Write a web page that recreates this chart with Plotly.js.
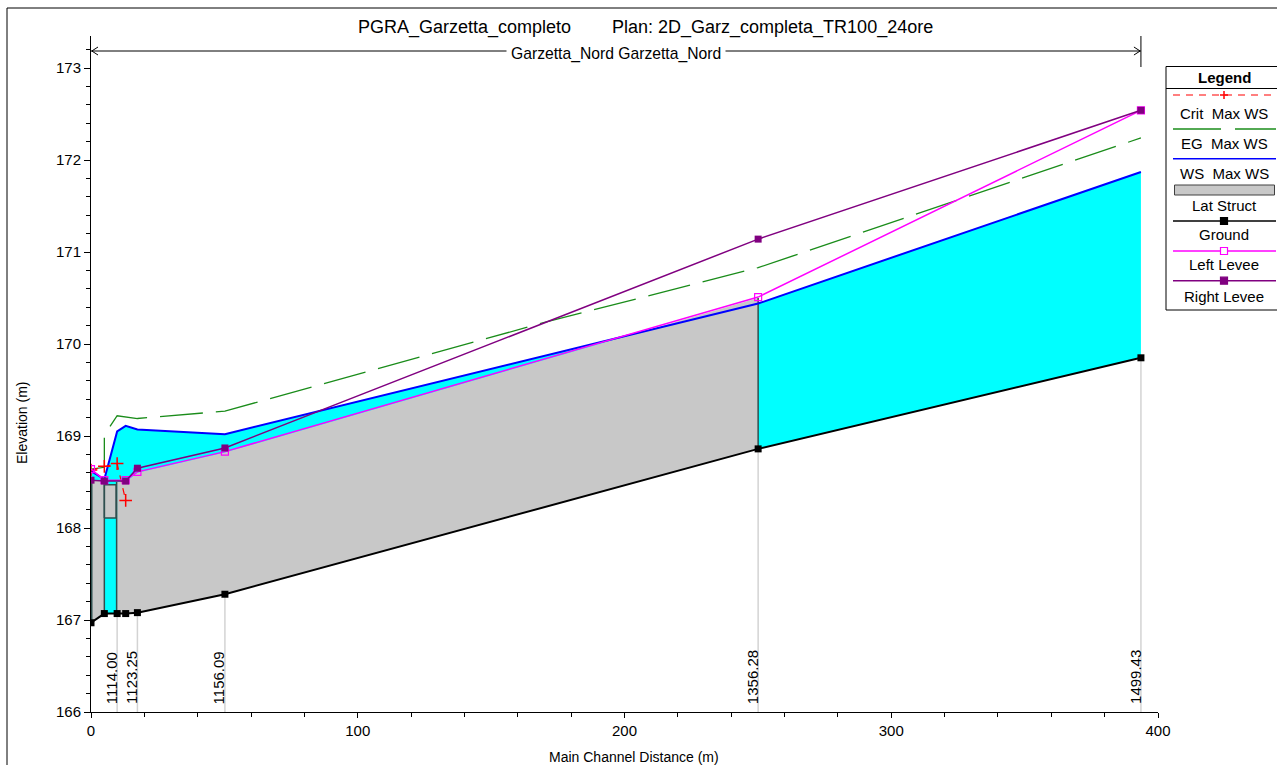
<!DOCTYPE html>
<html><head><meta charset="utf-8">
<script src="https://cdn.plot.ly/plotly-3.0.1.min.js"></script>
<style>html,body{margin:0;padding:0;background:#fff;}#chart{width:1277px;height:765px;}</style>
</head><body><div id="chart"></div>
<script>
// ---------- data ----------
const stationLabels = ['1114.00', '1123.25', '1156.09', '1356.28', '1499.43'];
const stationX = [9.8, 17.4, 50.2, 250.1, 393.6];
const groundX = [0, 5.0, 9.8, 13.0, 17.4, 50.2, 250.1, 393.6];
const groundY = [166.97, 167.07, 167.07, 167.07, 167.08, 167.28, 168.86, 169.85];
const wsX = [0, 5.0, 9.8, 13.0, 17.4, 50.2, 250.1, 393.6];
const wsY = [168.62, 168.53, 169.05, 169.11, 169.07, 169.02, 170.44, 171.87];
const egX = [0, 5.0, 5.0, 9.8, 17.4, 50.2, 170.7, 250.1, 393.6];
const egY = [168.64, 168.66, 169.01, 169.22, 169.19, 169.27, 170.24, 170.83, 172.24];
const critX = [0, 5.0, 9.8, 13.0];
const critY = [168.63, 168.67, 168.70, 168.30];
const leftLeveeX = [0, 5.0, 13.0, 17.4, 50.2, 250.1, 393.6];
const leftLeveeY = [168.64, 168.52, 168.52, 168.61, 168.83, 170.51, 172.54];
const rightLeveeX = [0, 5.0, 13.0, 17.4, 50.2, 250.1, 393.6];
const rightLeveeY = [168.52, 168.51, 168.51, 168.65, 168.87, 171.14, 172.54];
const latWestX = [0, 5.0];
const latWestY = [168.52, 168.52];
const latGateX = [5.0, 9.4];
const latGateY = [168.11, 168.47];
const latMainX = [9.8, 13.0, 17.4, 50.2, 250.1];
const latMainY = [168.50, 168.50, 168.60, 168.82, 170.50];
const reachName = 'Garzetta_Nord Garzetta_Nord';
const titleLeft = 'PGRA_Garzetta_completo';
const titleRight = 'Plan: 2D_Garz_completa_TR100_24ore';

// ---------- geometry helpers ----------
const PL = 91, PR = 1158, PT = 36, PB = 712;
const Y0 = 166, PXPERM = 92;
const yMax = Y0 + (PB - PT) / PXPERM;
const px = v => (v - PL) / (PR - PL);          // pixel x -> paper
const py = v => (PB - v) / (PB - PT);          // pixel y -> paper
function interp(xs, ys, x) {
  for (let i = 0; i < xs.length - 1; i++) {
    if (x >= xs[i] && x <= xs[i + 1]) {
      const t = xs[i + 1] === xs[i] ? 0 : (x - xs[i]) / (xs[i + 1] - xs[i]);
      return ys[i] + t * (ys[i + 1] - ys[i]);
    }
  }
  return ys[ys.length - 1];
}
const gAt = x => interp(groundX, groundY, x);

const DARK = '#2F4F4F', GRAY = '#C8C8C8', CYAN = '#00FFFF';
const traces = [];

// station grid lines
stationX.forEach(x => traces.push({x: [x, x], y: [Y0, gAt(x)], mode: 'lines',
  line: {color: '#D3D3D3', width: 1.5}, hoverinfo: 'skip'}));

// water fill (ground to WS)
traces.push({x: wsX.concat(groundX.slice().reverse()), y: wsY.concat(groundY.slice().reverse()),
  mode: 'lines', fill: 'toself', fillcolor: CYAN, line: {width: 0, color: CYAN}, hoverinfo: 'skip'});

// lateral structures
traces.push({x: latWestX.concat(latWestX.slice().reverse()),
  y: latWestY.concat(latWestX.slice().reverse().map(gAt)),
  mode: 'lines', fill: 'toself', fillcolor: GRAY, line: {width: 0}, hoverinfo: 'skip'});
traces.push({x: latMainX.concat(latMainX.slice().reverse()),
  y: latMainY.concat(latMainX.slice().reverse().map(gAt)),
  mode: 'lines', fill: 'toself', fillcolor: GRAY, line: {width: 0}, hoverinfo: 'skip'});
traces.push({x: [latGateX[0], latGateX[1], latGateX[1], latGateX[0], latGateX[0]],
  y: [latGateY[0], latGateY[0], latGateY[1], latGateY[1], latGateY[0]],
  mode: 'lines', fill: 'toself', fillcolor: GRAY, line: {width: 1.5, color: DARK}, hoverinfo: 'skip'});
// structure edges
traces.push({x: [latWestX[0], latWestX[0]], y: [gAt(latWestX[0]), latWestY[0]], mode: 'lines',
  line: {color: DARK, width: 3}, hoverinfo: 'skip'});
traces.push({x: [latGateX[0], latGateX[0]], y: [gAt(latGateX[0]), latWestY[1]], mode: 'lines',
  line: {color: DARK, width: 1.5}, hoverinfo: 'skip'});
traces.push({x: [latGateX[1] + 0.2, latGateX[1] + 0.2], y: [gAt(latGateX[1]), latMainY[0]], mode: 'lines',
  line: {color: DARK, width: 1.5}, hoverinfo: 'skip'});
const lmE = latMainX[latMainX.length - 1];
traces.push({x: [lmE, lmE], y: [gAt(lmE), latMainY[latMainY.length - 1]], mode: 'lines',
  line: {color: DARK, width: 1.5}, hoverinfo: 'skip'});

// ground
traces.push({x: groundX, y: groundY, mode: 'lines+markers', line: {color: '#000', width: 2},
  marker: {symbol: 'square', size: 7, color: '#000'}, hoverinfo: 'skip'});
// WS
traces.push({x: wsX, y: wsY, mode: 'lines', line: {color: '#0000FF', width: 2}, hoverinfo: 'skip'});
// EG
traces.push({x: egX, y: egY, mode: 'lines', line: {color: '#1A8C1A', width: 1.3, dash: '43px,13px'}, hoverinfo: 'skip'});
// Crit
traces.push({x: critX, y: critY, mode: 'lines+markers', line: {color: '#FF0000', width: 1.2, dash: '7px,6px'},
  marker: {symbol: 'cross-thin', size: 9, color: '#FF0000', line: {color: '#FF0000', width: 1.5}}, hoverinfo: 'skip'});
// Left levee
traces.push({x: leftLeveeX, y: leftLeveeY, mode: 'lines+markers', line: {color: '#FF00FF', width: 1.5},
  marker: {symbol: 'square-open', size: 7, color: '#FF00FF', line: {width: 1.2}}, hoverinfo: 'skip'});
// Right levee
traces.push({x: rightLeveeX, y: rightLeveeY, mode: 'lines+markers', line: {color: '#800080', width: 1.5},
  marker: {symbol: 'square', size: 7, color: '#800080'}, hoverinfo: 'skip'});

// ---------- shapes & annotations ----------
const shapes = [], annotations = [];
const F = 'Liberation Sans, Arial, sans-serif';

// outer frame
shapes.push({type: 'rect', xref: 'paper', yref: 'paper', x0: px(7), x1: px(1300), y0: py(8), y1: py(800),
  line: {color: '#000', width: 1}, fillcolor: 'rgba(0,0,0,0)'});

// reach arrow
const rx0 = groundX[0], rx1 = groundX[groundX.length - 1];
const ay = py(51);
shapes.push({type: 'line', xref: 'x', yref: 'paper', x0: rx0, x1: rx1, y0: ay, y1: ay, line: {color: '#000', width: 1}});
shapes.push({type: 'line', xref: 'x', yref: 'paper', x0: rx1, x1: rx1, y0: py(36), y1: py(67), line: {color: '#000', width: 1}});
const ah = 7 / ((PR - PL) / 400);
[[rx0, 1], [rx1, -1]].forEach(([x, s]) => {
  shapes.push({type: 'path', xref: 'x', yref: 'paper',
    path: `M ${x + s * ah},${py(47)} L ${x + s * 0.3},${ay} L ${x + s * ah},${py(55)}`,
    line: {color: '#000', width: 1}});
});
annotations.push({text: reachName, xref: 'x', yref: 'paper', x: (rx0 + rx1) / 2, y: py(54),
  showarrow: false, bgcolor: '#fff', font: {family: F, size: 15.7, color: '#000'}, xanchor: 'center', yanchor: 'middle', borderpad: 4});

// title
annotations.push({text: titleLeft, xref: 'paper', yref: 'paper', x: px(573), y: py(27), showarrow: false,
  xanchor: 'right', yanchor: 'middle', font: {family: F, size: 18, color: '#000'}});
annotations.push({text: titleRight, xref: 'paper', yref: 'paper', x: px(610), y: py(27), showarrow: false,
  xanchor: 'left', yanchor: 'middle', font: {family: F, size: 18, color: '#000'}});

// axis titles
annotations.push({text: 'Main Channel Distance (m)', xref: 'paper', yref: 'paper', x: px(634), y: py(757),
  showarrow: false, xanchor: 'center', yanchor: 'middle', font: {family: F, size: 14, color: '#000'}});
annotations.push({text: 'Elevation (m)', xref: 'paper', yref: 'paper', x: px(22), y: py(423),
  showarrow: false, xanchor: 'center', yanchor: 'middle', textangle: -90, font: {family: F, size: 14, color: '#000'}});

// station labels
stationX.forEach((x, i) => annotations.push({text: stationLabels[i], x: x, y: Y0, xref: 'x', yref: 'y',
  textangle: -90, showarrow: false, xanchor: 'center', yanchor: 'bottom', xshift: -6, yshift: 6,
  font: {family: F, size: 15, color: '#000'}}));

// legend box
shapes.push({type: 'rect', xref: 'paper', yref: 'paper', x0: px(1166), x1: px(1300), y0: py(66.5), y1: py(310),
  line: {color: '#000', width: 1}, fillcolor: '#fff'});
shapes.push({type: 'line', xref: 'paper', yref: 'paper', x0: px(1166), x1: px(1300), y0: py(88.5), y1: py(88.5),
  line: {color: '#000', width: 1}});
annotations.push({text: '<b>Legend</b>', xref: 'paper', yref: 'paper', x: px(1224), y: py(77), showarrow: false,
  xanchor: 'center', yanchor: 'middle', font: {family: F, size: 15, color: '#000'}});
const LX0 = 1173, LX1 = 1276, LXC = 1224;
const legendItems = [
  {label: 'Crit\u00A0\u00A0Max WS', ly: 95, ty: 113.5},
  {label: 'EG\u00A0\u00A0Max WS', ly: 129, ty: 143.5},
  {label: 'WS\u00A0\u00A0Max WS', ly: 158.7, ty: 173.5},
  {label: 'Lat Struct', ly: 190, ty: 205},
  {label: 'Ground', ly: 221, ty: 234.5},
  {label: 'Left Levee', ly: 251, ty: 264.5},
  {label: 'Right Levee', ly: 280.7, ty: 296.5}
];
legendItems.forEach(it => annotations.push({text: it.label, xref: 'paper', yref: 'paper', x: px(LXC), y: py(it.ty),
  showarrow: false, xanchor: 'center', yanchor: 'middle', font: {family: F, size: 15, color: '#000'}}));
const L = (x0, x1, y, color, width, dash) => shapes.push({type: 'line', xref: 'paper', yref: 'paper',
  x0: px(x0), x1: px(x1), y0: py(y), y1: py(y), line: {color, width, dash: dash || 'solid'}});
const sq = (y, color, fill) => shapes.push({type: 'rect', xref: 'paper', yref: 'paper',
  x0: px(LXC - 3.5), x1: px(LXC + 3.5), y0: py(y - 3.5), y1: py(y + 3.5), line: {color, width: 1.2}, fillcolor: fill});
// crit
L(LX0, LX1, 95, '#FF0000', 1.2, '7px,6px');
L(LXC - 4, LXC + 4, 95, '#FF0000', 1.5); shapes.push({type: 'line', xref: 'paper', yref: 'paper',
  x0: px(LXC), x1: px(LXC), y0: py(91), y1: py(99), line: {color: '#FF0000', width: 1.5}});
// EG
L(LX0, LXC - 3, 129, '#1A8C1A', 1.3); L(LXC + 11, LX1, 129, '#1A8C1A', 1.3);
// WS
L(LX0, LX1, 158.7, '#0000FF', 1.5);
// Lat struct
shapes.push({type: 'rect', xref: 'paper', yref: 'paper', x0: px(1174.5), x1: px(1274.5), y0: py(185), y1: py(195),
  line: {color: '#404040', width: 1}, fillcolor: GRAY});
// Ground
L(LX0, LX1, 221, '#000', 1.3); sq(221, '#000', '#000');
// Left levee
L(LX0, LX1, 251, '#FF00FF', 1.5); sq(251, '#FF00FF', '#fff');
// Right levee
L(LX0, LX1, 280.7, '#800080', 1.5); sq(280.7, '#800080', '#800080');

const layout = {
  width: 1277, height: 765,
  margin: {l: PL, r: 1277 - PR, t: PT, b: 765 - PB, pad: 0},
  paper_bgcolor: '#fff', plot_bgcolor: '#fff', showlegend: false,
  font: {family: F, color: '#000'},
  xaxis: {range: [0, 400], dtick: 100, tick0: 0, showgrid: false, zeroline: false, showline: true,
    linecolor: '#000', linewidth: 1, ticks: 'outside', ticklen: 5, tickcolor: '#000',
    tickfont: {family: F, size: 15, color: '#000'},
    minor: {dtick: 20, ticks: 'outside', ticklen: 4, tickcolor: '#000', showgrid: false}},
  yaxis: {range: [Y0, yMax], dtick: 1, tick0: 166, showgrid: false, zeroline: false, showline: true,
    linecolor: '#000', linewidth: 1, ticks: 'outside', ticklen: 6, tickcolor: '#000',
    tickfont: {family: F, size: 15, color: '#000'},
    minor: {dtick: 0.2, ticks: 'outside', ticklen: 4, tickcolor: '#000', showgrid: false}},
  shapes, annotations
};
Plotly.newPlot('chart', traces, layout, {displayModeBar: false, staticPlot: true});
</script></body></html>
